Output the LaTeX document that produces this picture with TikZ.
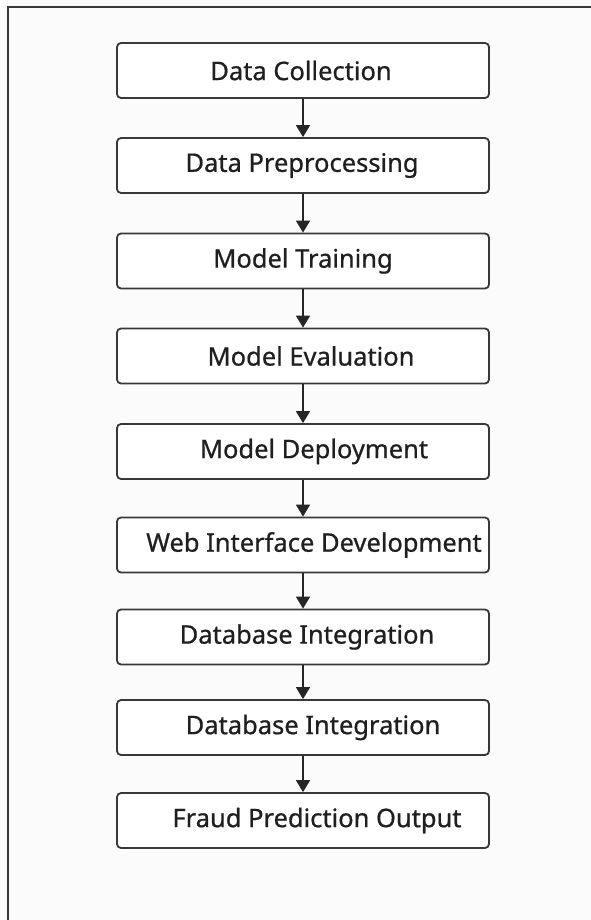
\documentclass[tikz,border=0pt]{standalone}
\usepackage{fontspec}
\setmainfont{Noto Sans}[UprightFeatures={FakeBold=0.7}]
\usetikzlibrary{arrows.meta}
\definecolor{edge}{HTML}{383838}
\definecolor{paper}{HTML}{FBFBFB}
\begin{document}
\begin{tikzpicture}[x=1pt, y=-1pt,
  every node/.style={font=\fontsize{25.5}{30}\selectfont, text=black!88},
  box/.style={draw=edge, line width=1.8pt, rounded corners=4pt, minimum width=372pt,
    minimum height=55pt, inner sep=2pt, fill=white},
  flow/.style={-{Triangle[width=14pt,length=12pt]}, line width=1.6pt, draw=black!85}]
\useasboundingbox (0,0) rectangle (591,920);
\fill[paper] (0,0) rectangle (591,920);
\draw[line width=2pt, edge] (8,935) |- (605,7);
\node[box] (collect) at (303,70.5) {\hspace*{-4pt}Data Collection};
\node[box] (prep) at (303,165.5) {\hspace*{-2pt}Data Preprocessing};
\node[box] (train) at (303,261) {Model Training};
\node[box] (eval) at (303,356) {\hspace*{16pt}Model Evaluation};
\node[box] (deploy) at (303,451.5) {\hspace*{22pt}Model Deployment};
\node[box] (web) at (303,545) {\hspace*{22pt}Web Interface Development};
\node[box] (db1) at (303,637) {\hspace*{8pt}Database Integration};
\node[box] (db2) at (303,727.5) {\hspace*{20pt}Database Integration};
\node[box] (out) at (303,820.5) {\hspace*{28pt}Fraud Prediction Output};
\draw[flow] (collect) -- (prep);
\draw[flow] (prep) -- (train);
\draw[flow] (train) -- (eval);
\draw[flow] (eval) -- (deploy);
\draw[flow] (deploy) -- (web);
\draw[flow] (web) -- (db1);
\draw[flow] (db1) -- (db2);
\draw[flow] (db2) -- (out);
\end{tikzpicture}
\end{document}
